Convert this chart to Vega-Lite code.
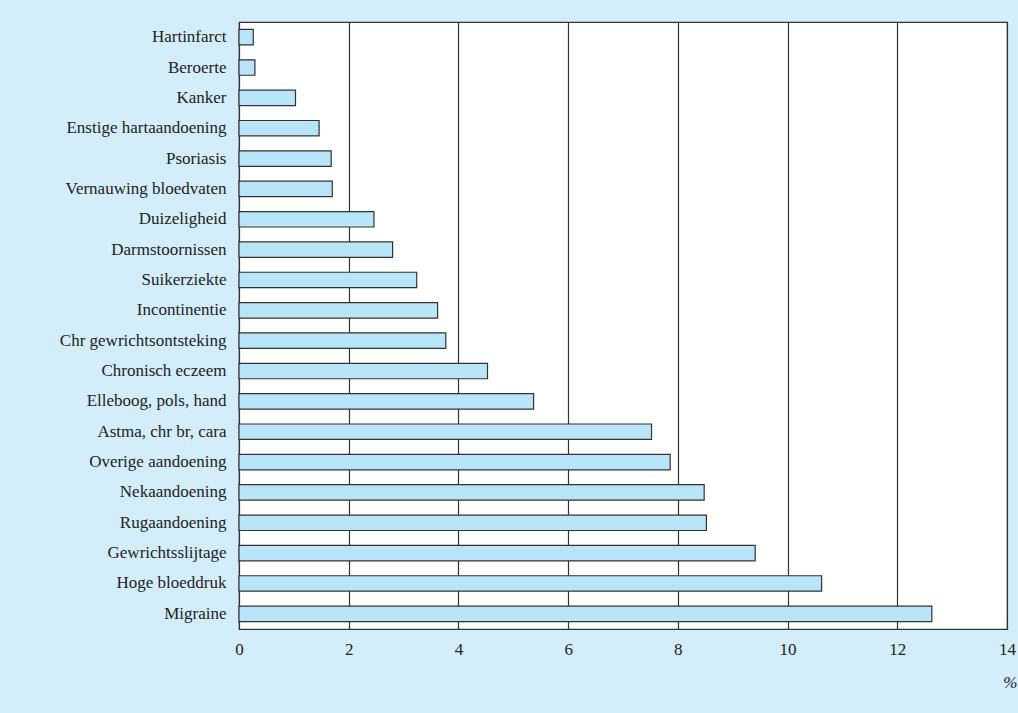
{
  "$schema": "https://vega.github.io/schema/vega-lite/v6.json",
  "width": 768,
  "height": 607,
  "autosize": {"type": "none"},
  "padding": {"left": 239, "top": 22, "right": 11, "bottom": 84},
  "background": "#d3eefa",
  "config": {
    "view": {"fill": "white", "stroke": "#333333", "strokeWidth": 1.2},
    "font": "Liberation Serif"
  },
  "data": {
    "values": [
      {"aandoening": "Hartinfarct", "pct": 0.26},
      {"aandoening": "Beroerte", "pct": 0.29},
      {"aandoening": "Kanker", "pct": 1.03},
      {"aandoening": "Enstige hartaandoening", "pct": 1.46},
      {"aandoening": "Psoriasis", "pct": 1.68},
      {"aandoening": "Vernauwing bloedvaten", "pct": 1.7},
      {"aandoening": "Duizeligheid", "pct": 2.46},
      {"aandoening": "Darmstoornissen", "pct": 2.8},
      {"aandoening": "Suikerziekte", "pct": 3.24},
      {"aandoening": "Incontinentie", "pct": 3.62},
      {"aandoening": "Chr gewrichtsontsteking", "pct": 3.77},
      {"aandoening": "Chronisch eczeem", "pct": 4.53},
      {"aandoening": "Elleboog, pols, hand", "pct": 5.37},
      {"aandoening": "Astma, chr br, cara", "pct": 7.52},
      {"aandoening": "Overige aandoening", "pct": 7.86},
      {"aandoening": "Nekaandoening", "pct": 8.48},
      {"aandoening": "Rugaandoening", "pct": 8.52},
      {"aandoening": "Gewrichtsslijtage", "pct": 9.41},
      {"aandoening": "Hoge bloeddruk", "pct": 10.62},
      {"aandoening": "Migraine", "pct": 12.63}
    ]
  },
  "mark": {"type": "bar", "fill": "#b9e5f9", "stroke": "#333333", "strokeWidth": 1.2},
  "encoding": {
    "y": {
      "field": "aandoening",
      "type": "nominal",
      "sort": null,
      "scale": {"paddingInner": 0.49, "paddingOuter": 0.245},
      "axis": {
        "title": null,
        "domain": false,
        "ticks": false,
        "labelPadding": 13,
        "labelFontSize": 17,
        "labelColor": "#222222",
        "labelFont": "Liberation Serif",
        "grid": false
      }
    },
    "x": {
      "field": "pct",
      "type": "quantitative",
      "scale": {"domain": [0, 14], "nice": false},
      "axis": {
        "values": [0, 2, 4, 6, 8, 10, 12, 14],
        "grid": true,
        "gridColor": "#333333",
        "gridWidth": 1.2,
        "gridOpacity": 1,
        "domain": false,
        "ticks": false,
        "labelFlush": false,
        "labelPadding": 12,
        "labelFontSize": 17,
        "labelColor": "#222222",
        "labelFont": "Liberation Serif",
        "title": "%",
        "titleFont": "Liberation Serif",
        "titleFontStyle": "italic",
        "titleFontWeight": "normal",
        "titleFontSize": 17,
        "titleColor": "#222222",
        "titleAlign": "right",
        "titleAnchor": "end",
        "titleBaseline": "top",
        "titleX": 778,
        "titleY": 45
      }
    }
  }
}
